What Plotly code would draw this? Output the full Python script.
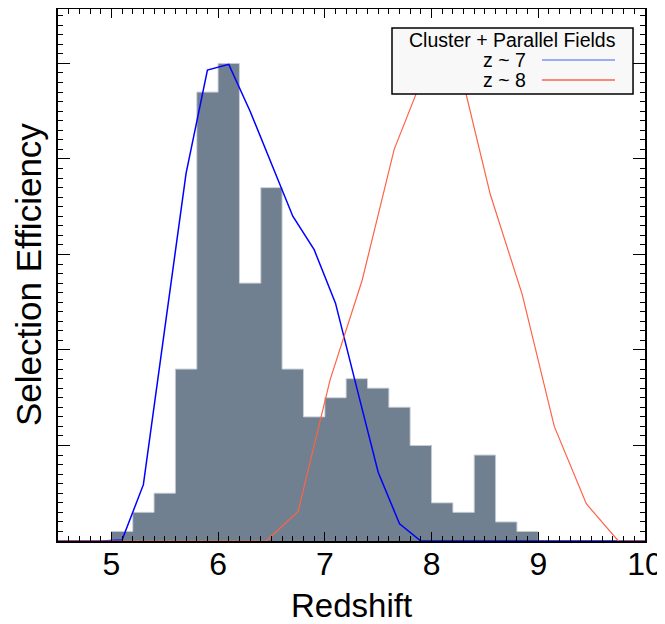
import plotly.graph_objects as go

# ---- data ----
bin_edges = [5.0, 5.2, 5.4, 5.6, 5.8, 6.0, 6.2, 6.4, 6.6, 6.8, 7.0,
             7.2, 7.4, 7.6, 7.8, 8.0, 8.2, 8.4, 8.6, 8.8, 9.0]
counts = [1, 3, 5, 18, 47, 50, 27, 37, 18, 13,
          15, 17, 16, 14, 10, 4, 3, 9, 2, 1]

z7_x = [4.5, 4.9, 5.1, 5.3, 5.5, 5.7, 5.9, 6.1, 6.3, 6.5, 6.7, 6.9,
        7.1, 7.3, 7.5, 7.7, 7.9, 8.5, 9.0, 9.5, 10.0]
z7_y = [0, 0, 0.1, 5.9, 22.2, 38.5, 49.3, 49.9, 45.0, 39.5, 34.0, 30.5,
        24.9, 16.0, 7.2, 1.8, 0, 0, 0, 0, 0]

z8_x = [4.5, 5.0, 5.5, 6.0, 6.45, 6.75, 7.05, 7.35, 7.65, 7.95, 8.25,
        8.55, 8.85, 9.15, 9.45, 9.75, 10.0]
z8_y = [0, 0, 0, 0, 0, 3.1, 16.9, 27.3, 41.0, 49.5, 50.2,
        36.3, 25.8, 12.0, 3.9, 0, 0]

legend_title = "Cluster + Parallel Fields"
legend_labels = ["z ~ 7", "z ~ 8"]
line_colors = ["#0000ff", "#ff6347"]
legend_line_colors = ["#7a95ee", "#ff6347"]
bar_color = "#708090"
bar_edge_color = "#c9ced4"

x_ticks = [5, 6, 7, 8, 9, 10]

# ---- figure ----
centers = [(a + b) / 2 for a, b in zip(bin_edges[:-1], bin_edges[1:])]
widths = [b - a for a, b in zip(bin_edges[:-1], bin_edges[1:])]
outline_x = [bin_edges[0]] + bin_edges
outline_y = [0] + counts + [0]

fig = go.Figure()
fig.add_trace(go.Bar(x=centers, y=counts, width=widths,
                     marker=dict(color=bar_color, line=dict(width=0)),
                     showlegend=False, hoverinfo="skip"))
fig.add_trace(go.Scatter(x=outline_x, y=outline_y, mode="lines",
                         line=dict(color=bar_edge_color, width=1, shape="hv"),
                         showlegend=False, hoverinfo="skip"))
fig.add_trace(go.Scatter(x=z7_x, y=z7_y, mode="lines",
                         line=dict(color=line_colors[0], width=1.5),
                         showlegend=False))
fig.add_trace(go.Scatter(x=z8_x, y=z8_y, mode="lines",
                         line=dict(color=line_colors[1], width=1.2),
                         showlegend=False))

FONT = "Liberation Sans, Arial, Helvetica, sans-serif"

# page body has an 8px margin, so the figure is sized/offset to compensate
fig.update_layout(
    width=657, height=616,
    margin=dict(l=50, r=20, t=1, b=83),
    paper_bgcolor="white", plot_bgcolor="white",
    font=dict(family=FONT, color="black"),
    bargap=0,
    xaxis=dict(range=[4.5, 10], tickvals=x_ticks,
               ticktext=[str(v) for v in x_ticks],
               ticks="inside", ticklen=9, tickwidth=1.2, tickcolor="black",
               minor=dict(dtick=0.1, tick0=0, ticks="inside", ticklen=5,
                          tickwidth=1, tickcolor="black"),
               showline=True, linecolor="black", linewidth=2, mirror="ticks",
               showgrid=False, zeroline=False, automargin=False,
               ticklabelstandoff=-6,
               tickfont=dict(size=32, family=FONT)),
    yaxis=dict(range=[0, 55.7], dtick=10, tick0=0,
               ticks="inside", ticklen=12, tickwidth=1.2, tickcolor="black",
               minor=dict(dtick=1, ticks="inside", ticklen=5, tickwidth=1,
                          tickcolor="black"),
               showticklabels=False, automargin=False,
               showline=True, linecolor="black", linewidth=2, mirror="ticks",
               showgrid=False, zeroline=False),
)

# axis titles
fig.add_annotation(xref="paper", yref="paper", x=0.5, y=0, yshift=-64,
                   text="Redshift", showarrow=False,
                   font=dict(size=33, family=FONT, color="black"),
                   xanchor="center", yanchor="middle")
fig.add_annotation(xref="paper", yref="paper", x=0, y=0.5, xshift=-30,
                   text="Selection Efficiency", showarrow=False, textangle=-90,
                   font=dict(size=35, family=FONT, color="black"),
                   xanchor="center", yanchor="middle")

# custom legend (text left of line sample, like the original)
box = dict(x0=0.569, x1=0.9796, y0=0.8402, y1=0.9643)
fig.add_shape(type="rect", xref="paper", yref="paper", **box,
              fillcolor="#f8f8f8", line=dict(color="black", width=1.5),
              layer="above")
fig.add_annotation(xref="paper", yref="paper", x=0.775, y=0.9417,
                   text=legend_title, showarrow=False,
                   font=dict(size=19.5, family=FONT, color="black"),
                   xanchor="center", yanchor="middle")
entry_y = [0.9041, 0.8665]
for lab, col, yy in zip(legend_labels, legend_line_colors, entry_y):
    fig.add_annotation(xref="paper", yref="paper", x=0.8007, y=yy,
                       text=lab, showarrow=False,
                       font=dict(size=19.5, family=FONT, color="black"),
                       xanchor="right", yanchor="middle")
    fig.add_shape(type="line", xref="paper", yref="paper",
                  x0=0.8245, x1=0.9489, y0=yy, y1=yy,
                  line=dict(color=col, width=1.3), layer="above")

fig.write_html("out.html")
